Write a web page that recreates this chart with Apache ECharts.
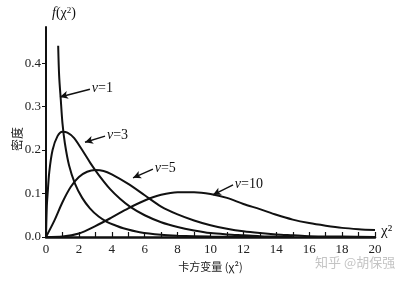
<!DOCTYPE html>
<html>
<head>
<meta charset="utf-8">
<script src="https://cdn.jsdelivr.net/npm/echarts@6/dist/echarts.min.js"></script>
<style>
  html, body { margin: 0; padding: 0; background: #fff; }
  #chi { width: 409px; height: 282px; }
</style>
</head>
<body>
<div id="chi"></div>
<script>
// values: [x, density]
var nu1 = [[0.74,0.44],[0.8,0.37],[0.9,0.315],[1.0,0.262],[1.15,0.215],[1.4,0.165],[1.76,0.123],[2.2,0.09],[2.67,0.066],[3.2,0.047],[3.7,0.035],[4.2,0.027],[4.7,0.02],[5.7,0.011],[7,0.005],[8,0.003],[10,0.001],[12,0.0003],[14,0]];
var nu3 = [[0,0],[0.05,0.07],[0.1,0.1],[0.2,0.15],[0.4,0.2],[0.7,0.232],[1.0,0.242],[1.3,0.24],[1.7,0.228],[2.2,0.2],[2.7,0.17],[3.2,0.143],[3.9,0.11],[4.5,0.088],[5.1,0.07],[6,0.05],[7,0.034],[8,0.023],[9,0.015],[10,0.009],[11,0.006],[12,0.004],[13,0.002],[14,0.001],[15,0]];
var nu5 = [[0,0],[0.5,0.037],[1,0.08],[1.5,0.115],[2,0.138],[2.5,0.15],[3,0.154],[3.5,0.152],[4,0.144],[5,0.122],[6,0.096],[7,0.07],[8,0.052],[9,0.038],[10,0.027],[11,0.019],[12,0.013],[13,0.009],[14,0.006],[15,0.004],[16,0.002],[18,0.001],[20,0]];
var nu10 = [[0,0],[1,0.001],[2,0.008],[3,0.025],[4,0.045],[5,0.066],[6,0.084],[7,0.097],[8,0.103],[9,0.103],[10,0.099],[11,0.09],[12,0.076],[13,0.064],[14,0.051],[15,0.04],[16,0.032],[17,0.026],[18,0.021],[19,0.018],[20,0.016]];
var yTicks = [0, 0.1, 0.2, 0.3, 0.4];
// arrow start / end for the ν labels, in data units
var notes = [
    { name: 'ν=1',  from: [2.67, 0.34],  to: [0.85, 0.322] },
    { name: 'ν=3',  from: [3.59, 0.232], to: [2.37, 0.218] },
    { name: 'ν=5',  from: [6.5, 0.156],  to: [5.29, 0.136] },
    { name: 'ν=10', from: [11.37, 0.12], to: [10.15, 0.097] }
];

var serif = 'Liberation Serif';
var chart = echarts.init(document.getElementById('chi'));

function curve(data, note) {
    return {
        type: 'line',
        data: data,
        smooth: 0.3,
        symbol: 'none',
        lineStyle: { color: '#111', width: 2 },
        markLine: {
            silent: true,
            animation: false,
            lineStyle: { color: '#111', width: 1.5, type: 'solid' },
            symbolSize: [6, 8],
            label: {
                show: true,
                position: 'start',
                distance: 2,
                formatter: '{v|ν}{t|' + note.name.slice(1) + '}',
                rich: {
                    v: { fontFamily: serif, fontStyle: 'italic', fontSize: 14, color: '#111' },
                    t: { fontFamily: serif, fontSize: 14, color: '#111' }
                }
            },
            data: [[
                { coord: note.from, symbol: 'none' },
                { coord: note.to, symbol: 'arrow' }
            ]]
        }
    };
}

var option = {
    animation: false,
    grid: { left: 46, right: 34, top: 27, bottom: 45, outerBoundsMode: 'none' },
    xAxis: {
        type: 'value',
        min: 0,
        max: 20,
        interval: 1,
        name: '卡方变量 (χ²)',
        nameLocation: 'middle',
        nameGap: 24,
        nameTextStyle: { fontFamily: 'Noto Sans CJK SC', fontSize: 11, color: '#222' },
        axisLine: { lineStyle: { color: '#111', width: 2.5 } },
        axisTick: { inside: true, length: 5, lineStyle: { color: '#111', width: 1.2 } },
        axisLabel: {
            fontFamily: serif, fontSize: 13, color: '#222', margin: 6,
            formatter: function (v) { return v % 2 === 0 ? v : ''; }
        },
        splitLine: { show: false }
    },
    yAxis: {
        type: 'value',
        min: 0,
        max: 0.483,
        axisLine: { show: true, lineStyle: { color: '#111', width: 2 } },
        axisTick: { show: true, length: 4, customValues: yTicks, lineStyle: { color: '#111' } },
        axisLabel: {
            fontFamily: serif, fontSize: 13, color: '#222', margin: 5,
            customValues: yTicks,
            formatter: function (v) { return v.toFixed(1); }
        },
        splitLine: { show: false }
    },
    graphic: [
        {
            type: 'text', x: 17, y: 139, rotation: Math.PI / 2,
            style: {
                text: '密度', fontFamily: 'Noto Sans CJK SC', fontSize: 12, fill: '#222',
                align: 'center', verticalAlign: 'middle'
            }
        },
        {
            type: 'text', left: 52, top: 6,
            style: {
                text: '{f|f}{p|(χ}{s|2}{p|)}',
                rich: {
                    f: { fontFamily: serif, fontStyle: 'italic', fontSize: 14, fill: '#111' },
                    p: { fontFamily: serif, fontSize: 14, fill: '#111' },
                    s: { fontFamily: serif, fontSize: 9, fill: '#111', verticalAlign: 'top', padding: [0, 0, 6, 0] }
                }
            }
        },
        {
            type: 'text', left: 381, top: 224,
            style: { text: 'χ²', fontFamily: serif, fontSize: 15, fill: '#111' }
        },
        {
            type: 'text', left: 315, top: 256,
            style: { text: '知乎 @胡保强', fontFamily: 'Noto Sans CJK SC', fontSize: 13, fill: '#c4c4c4' }
        }
    ],
    series: [
        curve(nu1, notes[0]),
        curve(nu3, notes[1]),
        curve(nu5, notes[2]),
        curve(nu10, notes[3])
    ]
};

chart.setOption(option);
window.addEventListener('resize', function () {
    chart.resize();
});
</script>
</body>
</html>
